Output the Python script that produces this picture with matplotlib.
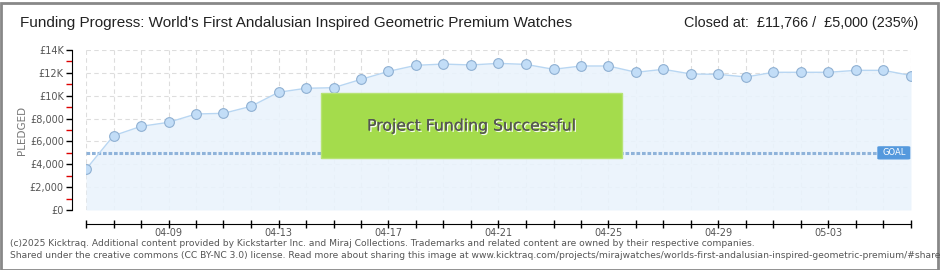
import matplotlib
matplotlib.use("Agg")
import matplotlib.pyplot as plt
from matplotlib.patches import Rectangle, FancyBboxPatch
import matplotlib.patheffects as pe
import numpy as np
import datetime as dt

# ---- data ----
start_date = dt.date(2025, 4, 6)
pledged = [3560, 6500, 7320, 7670, 8400, 8460, 9070, 10300, 10650, 10700,
           11430, 12130, 12660, 12770, 12690, 12830, 12740, 12310, 12600, 12600,
           12050, 12310, 11900, 11870, 11640, 12050, 12050, 12050, 12220, 12220,
           11766]
goal = 5000
ytick_values = [0, 2000, 4000, 6000, 8000, 10000, 12000, 14000]
ytick_labels = ["£0", "£2,000", "£4,000", "£6,000", "£8,000", "£10K", "£12K", "£14K"]
title = "Funding Progress: World's First Andalusian Inspired Geometric Premium Watches"
status = "Closed at:  £11,766 /  £5,000 (235%)"
footer1 = ("(c)2025 Kicktraq. Additional content provided by Kickstarter Inc. and Miraj Collections. "
           "Trademarks and related content are owned by their respective companies.")
footer2 = ("Shared under the creative commons (CC BY-NC 3.0) license. Read more about sharing this image at "
           "www.kicktraq.com/projects/mirajwatches/worlds-first-andalusian-inspired-geometric-premium/#share")

dates = [start_date + dt.timedelta(days=i) for i in range(len(pledged))]
x = np.arange(len(pledged))
xlabels = [d.strftime("%m-%d") if (i % 4 == 3) else "" for i, d in enumerate(dates)]

W, H = 940, 270
fig = plt.figure(figsize=(W / 100, H / 100), dpi=100)
fig.patch.set_facecolor("white")

font = ["DejaVu Sans"]
narrow = ["Liberation Sans", "DejaVu Sans"]

L, R, T, B = 86, 911, 50, 210
ax = fig.add_axes([L / W, 1 - B / H, (R - L) / W, (B - T) / H])
ax.set_xlim(0, len(pledged) - 1)
ax.set_ylim(0, 14000)
ax.set_facecolor("white")

# grid
for v in ytick_values:
    ax.axhline(v, color="#dddddd", lw=0.8, ls=(0, (4, 3)), zorder=0)
for xi in x:
    ax.axvline(xi, color="#dddddd", lw=0.8, ls=(0, (4, 3)), zorder=0)

# area + line + markers
ax.fill_between(x, pledged, 0, color="#eaf3fc", alpha=0.9, zorder=1, lw=0)
ax.plot(x, pledged, color="#b8d6f2", lw=1.0, zorder=3)
ax.plot(x, pledged, ls="none", marker="o", ms=7, mfc="#c2ddf7", mec="#8fb0d2", mew=0.8, zorder=4)

# goal line
ax.axhline(goal, color="#8fb3da", lw=2.2, ls=(0, (1.2, 0.6)), zorder=2)

# success box
bx0, bx1 = 8.55, 19.5
ax.add_patch(Rectangle((bx0, 4550), bx1 - bx0, 10200 - 4550, facecolor="#a4dc4c",
                       edgecolor="#b7e374", lw=1, zorder=5))
ax.text((bx0 + bx1) / 2, 7350, "Project Funding Successful", ha="center", va="center",
        fontsize=11.3, color="#555555", family=font, zorder=6,
        path_effects=[pe.withSimplePatchShadow(offset=(1, -1), shadow_rgbFace="white", alpha=0.9), pe.Normal()])

# GOAL label
gx0 = 28.8
ax.add_patch(FancyBboxPatch((gx0, goal - 520), 1.15, 1040, boxstyle="round,pad=0,rounding_size=0.08",
                            facecolor="#5599dd", edgecolor="#5599dd", zorder=6, mutation_aspect=400))
ax.text(gx0 + 0.58, goal, "GOAL", ha="center", va="center", fontsize=6, color="white",
        family=font, zorder=7)

# spines/ticks
for s in ["top", "right"]:
    ax.spines[s].set_visible(False)
ax.spines["left"].set_position(("outward", 10))
ax.spines["bottom"].set_position(("outward", 10))
ax.spines["left"].set_color("black")
ax.spines["bottom"].set_color("black")
ax.set_yticks(ytick_values)
ax.set_yticklabels(ytick_labels, fontsize=7, color="#555555", family=font)
ax.set_yticks(np.arange(1000, 14000, 2000), minor=True)
ax.tick_params(axis="y", which="major", length=4, width=1, color="black", pad=2)
ax.tick_params(axis="y", which="minor", length=4, width=1, color="#dd0000")
ax.set_xticks(x)
ax.set_xticklabels(xlabels, fontsize=7, color="#555555", family=font)
ax.tick_params(axis="x", direction="inout", length=6, width=1, color="black", pad=0)
ax.set_ylabel("PLEDGED", fontsize=7.5, color="#777777", family=font, labelpad=2)

# header
fig.text(20 / W, 1 - 23 / H, title, fontsize=11, color="#222222", family=narrow, va="center", ha="left")
fig.text(918 / W, 1 - 23 / H, status, fontsize=10.4, color="#222222", family=narrow, va="center", ha="right")

# footer
fig.text(10 / W, 1 - 243 / H, footer1, fontsize=6.6, color="#555555", family=font, va="center")
fig.text(10 / W, 1 - 256 / H, footer2, fontsize=6.6, color="#555555", family=font, va="center")

# frame
fig.add_artist(Rectangle((0.5 / W, 0.5 / H), (W - 3) / W, (H - 3) / H, transform=fig.transFigure,
                         fill=False, edgecolor="#888888", lw=2))

fig.savefig("out.png", dpi=100)
